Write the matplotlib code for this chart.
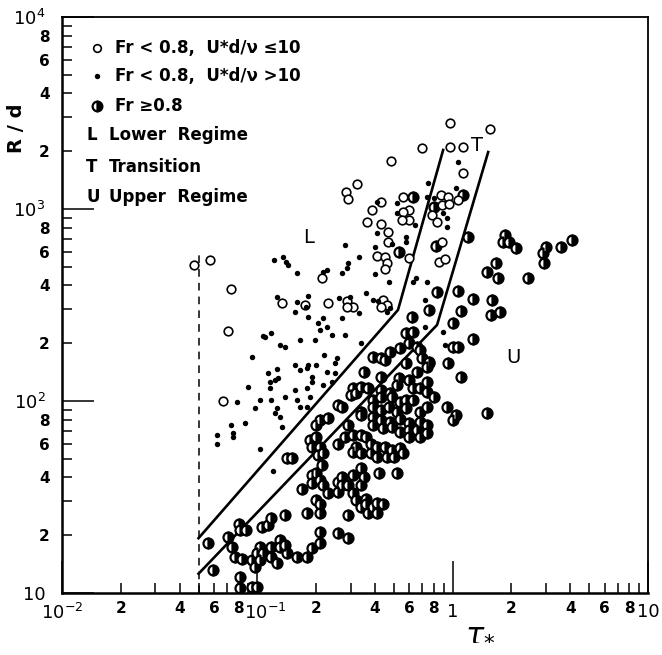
import matplotlib
matplotlib.use('Agg')
import matplotlib.pyplot as plt
import matplotlib.transforms as mtransforms
from matplotlib.ticker import FixedLocator, FixedFormatter

plt.rcParams['font.family'] = ['DejaVu Sans']
plt.rcParams['mathtext.fontset'] = 'dejavusans'

# ---------------- data ----------------
# Fr < 0.8, U*d/nu <= 10  (open circles)
open_x = [0.0475, 0.057, 0.073, 0.071, 0.067,
          0.97, 1.55, 0.70, 0.97, 1.13, 0.484, 0.324, 0.284, 0.292, 1.13,
          0.387, 0.365, 0.43, 0.43, 0.557, 0.60, 0.557, 0.60, 0.55, 0.466,
          0.466, 0.41, 0.45, 0.46, 0.45, 0.60, 0.87, 0.95, 0.88, 1.07, 0.96,
          0.78, 0.83, 0.88, 0.85, 0.91, 0.134, 0.23, 0.287, 0.31, 0.287,
          0.44, 0.46, 0.43, 0.214, 0.175]
open_y = [510, 540, 383, 232, 100,
          2800, 2610, 2080, 2100, 2100, 1780, 1350, 1230, 1130, 1540,
          990, 855, 835, 1086, 1150, 990, 960, 880, 880, 760,
          673, 570, 563, 524, 487, 556, 1183, 1153, 1047, 1113, 1061,
          930, 855, 673, 530, 550, 324, 324, 330, 309, 309,
          336, 316, 309, 437, 316]

# Fr < 0.8, U*d/nu > 10  (small filled dots)
filled_x = [1.07, 0.748, 1.04, 0.74, 0.80, 0.52, 0.41, 0.52, 0.64, 0.89,
            0.94, 0.93, 0.41, 0.40, 0.58, 0.58, 0.49, 0.28, 0.33, 0.29,
            0.287, 0.27, 0.40, 0.47, 0.36,
            0.122, 0.135, 0.14, 0.143, 0.16, 0.216, 0.226,
            0.126, 0.16, 0.156, 0.178, 0.182, 0.182, 0.204, 0.216, 0.226,
            0.24, 0.21, 0.262, 0.297, 0.33, 0.28, 0.27, 0.34, 0.39, 0.415,
            0.48, 0.46, 0.63, 0.65, 0.74, 0.72, 0.89, 0.109, 0.118, 0.13,
            0.138, 0.166, 0.198, 0.107,
            0.094, 0.22, 0.255, 0.25, 0.156, 0.166, 0.18, 0.182, 0.20,
            0.113, 0.126, 0.128, 0.116, 0.123, 0.09, 0.116, 0.156, 0.18,
            0.19, 0.19, 0.216, 0.24, 0.25, 0.226,
            0.079, 0.097, 0.103, 0.118, 0.126, 0.123, 0.13, 0.134, 0.138,
            0.16, 0.166, 0.18, 0.186,
            0.073, 0.086, 0.075, 0.075, 0.062, 0.062, 0.103, 0.12,
            0.72, 0.91]
filled_y = [1758, 1365, 1285, 1153, 1140, 1074, 1086, 953, 826, 953,
            900, 805, 750, 634, 714, 673, 658, 649, 562, 524,
            493, 464, 458, 417, 365,
            542, 563, 530, 511, 464, 470, 481,
            348, 328, 291, 309, 352, 274, 255, 270, 243,
            221, 234, 343, 348, 287, 221, 270, 200, 336, 330,
            305, 291, 417, 437, 417, 336, 228, 215, 226, 196,
            191, 208, 208, 218,
            169, 174, 167, 158, 154, 145, 149, 154, 154,
            140, 147, 132, 126, 129, 118, 117, 114, 117,
            126, 133, 121, 126, 140, 142,
            99, 92, 101, 101, 92, 87, 83, 73, 105,
            101, 93, 93, 105,
            75, 77, 68, 65, 66.5, 60, 56, 43,
            243, 196]

# Fr >= 0.8  (half-filled circles)
half_x = [1.2, 1.85, 1.8, 1.95, 2.1, 3.0, 2.9, 2.95, 3.6, 4.1,
          1.67, 1.5, 1.7, 2.44, 0.83, 1.07, 1.27, 1.59, 1.57, 1.75,
          0.76, 0.62, 1.1, 1.0, 1.27, 1.0, 1.07, 0.95, 1.1, 0.76,
          0.58, 0.93, 1.04, 1.0, 1.5, 0.82,
          0.63, 1.13, 0.8, 0.53,
          0.58, 0.63, 0.6, 0.66, 0.54, 0.48, 0.43, 0.39, 0.45, 0.68,
          0.7, 0.76, 0.74,
          0.35, 0.43, 0.53, 0.6, 0.66, 0.74,
          0.31, 0.34, 0.37, 0.43, 0.48, 0.52, 0.63, 0.68, 0.74, 0.8,
          0.3, 0.32,
          0.39, 0.43, 0.49, 0.54, 0.58, 0.63,
          0.26, 0.27, 0.34, 0.39, 0.43, 0.47, 0.52, 0.58, 0.68, 0.74,
          0.21, 0.23, 0.2, 0.29, 0.34,
          0.39, 0.43, 0.48, 0.54, 0.6, 0.68, 0.74, 0.66, 0.74, 0.6,
          0.39, 0.44, 0.49, 0.54, 0.6, 0.68,
          0.186, 0.2, 0.19, 0.21, 0.26, 0.28,
          0.31, 0.34, 0.36, 0.38, 0.32,
          0.41, 0.45, 0.49, 0.54, 0.56, 0.5, 0.46, 0.41, 0.38, 0.34, 0.31,
          0.216, 0.205, 0.142, 0.15,
          0.214, 0.2, 0.19, 0.21, 0.216, 0.19, 0.17,
          0.26, 0.27, 0.31, 0.34, 0.35, 0.34, 0.29, 0.27, 0.26,
          0.31, 0.32, 0.36, 0.34, 0.2, 0.21, 0.23,
          0.36, 0.39, 0.41, 0.44, 0.41, 0.37,
          0.42, 0.52, 0.29,
          0.081, 0.088, 0.082,
          0.106, 0.113, 0.118, 0.138, 0.18, 0.21,
          0.071, 0.056, 0.074, 0.077, 0.083,
          0.103, 0.107, 0.118, 0.13, 0.13, 0.118, 0.126, 0.142, 0.138,
          0.094, 0.1, 0.059, 0.082,
          0.16, 0.18, 0.19, 0.21, 0.21, 0.26, 0.29,
          0.082, 0.094, 0.1, 0.097, 0.103]
half_y = [714, 733, 673, 673, 627, 634, 590, 524, 634, 690,
          524, 470, 437, 437, 370, 374, 340, 336, 281, 291,
          298, 274, 294, 255, 210, 191, 191, 158, 133, 158,
          158, 93, 85, 80, 87, 641,
          1153, 1183, 1024, 597,
          226, 228, 200, 191, 189, 180, 167, 169, 164, 185,
          167, 160, 150,
          142, 133, 131, 129, 142, 126,
          117, 118, 117, 114, 110, 121, 117, 117, 111, 105,
          107, 110,
          101, 105, 105, 99, 101, 101,
          95, 93, 88, 93, 90, 93, 88, 92, 88, 93,
          80, 81.5, 75, 75, 85,
          83, 80, 78, 81, 77, 78, 75, 71, 68, 71,
          75, 72, 73, 69, 65, 65,
          63, 65, 57.5, 57.5, 60, 65,
          66.5, 66.5, 65, 60, 57.5,
          57.5, 57.5, 55.6, 57, 53.6, 51, 51, 51, 53.6, 53.6, 54,
          53.6, 52.5, 50.5, 50.5,
          46.4, 42, 41, 38.8, 36.5, 37.3, 35,
          37.8, 40, 41, 44.8, 40, 36.5, 36.5, 36.5, 33.6,
          33, 30.5, 31, 28, 30.5, 29, 33,
          29, 28, 29.5, 29, 26, 26,
          42, 42, 25.5,
          23, 21.3, 21.3,
          22, 22.6, 24.5, 25.5, 26, 26,
          19.6, 18.2, 17.4, 15.4, 15,
          17.4, 16.2, 17.4, 18.9, 17.4, 15.4, 14.3, 16.2, 17.8,
          14.8, 16.2, 13.2, 12.1,
          15.4, 15.4, 17.2, 18.2, 20.8, 20.5, 19.3,
          10.6, 10.7, 10.7, 13.7, 14.8]

# regime boundaries
lt_boundary_x = [0.05, 0.525, 0.894]
lt_boundary_y = [19.3, 298, 2030]
tu_boundary_x = [0.05, 0.832, 1.52]
tu_boundary_y = [12.6, 249, 1980]
cutoff_x = [0.05, 0.05]
cutoff_y = [10, 600]

# regime letters
regime_labels = ['L', 'T', 'U']
regime_x = [0.182, 1.33, 2.04]
regime_y = [714, 2154, 169]

# ticks
x_major = [0.01, 0.1, 1, 10]
x_major_labels = [r'$\mathregular{10^{-2}}$', r'$\mathregular{10^{-1}}$', '1', '10']
x_minor = [m * d for d in (0.01, 0.1, 1) for m in range(2, 10)]
x_minor_labels = ['2', '', '4', '', '6', '', '8', ''] * 3
y_major = [10, 100, 1000, 10000]
y_major_labels = ['10', r'$\mathregular{10^{2}}$', r'$\mathregular{10^{3}}$', r'$\mathregular{10^{4}}$']
y_minor = [m * d for d in (10, 100, 1000) for m in range(2, 10)]
y_minor_labels = ['2', '', '4', '', '6', '', '8', ''] * 3

legend_texts = ['Fr < 0.8,  U*d/ν ≤10', 'Fr < 0.8,  U*d/ν >10', 'Fr ≥0.8']
legend_letters = ['L', 'T', 'U']
legend_letter_texts = ['Lower  Regime', 'Transition', 'Upper  Regime']

# ---------------- figure ----------------
fig = plt.figure(figsize=(6.62, 6.55), dpi=100)
ax = fig.add_axes([62 / 662, 62 / 655, 586 / 662, 576 / 655])
ax.set_xscale('log')
ax.set_yscale('log')
ax.set_xlim(0.01, 10)
ax.set_ylim(10, 10000)

ax.plot(lt_boundary_x, lt_boundary_y, color='black', lw=1.9, zorder=2)
ax.plot(tu_boundary_x, tu_boundary_y, color='black', lw=1.9, zorder=2)
ax.plot(cutoff_x, cutoff_y, color='black', lw=1.1, ls=(0, (5, 4)), zorder=2)

ax.plot(half_x, half_y, 'o', ls='none', fillstyle='right', mfc='black',
        markerfacecoloralt='white', mec='black', ms=7.2, mew=1.6, zorder=3)
ax.plot(open_x, open_y, 'o', ls='none', mfc='white', mec='black',
        ms=6.2, mew=1.2, zorder=4)
ax.plot(filled_x, filled_y, 'o', ls='none', color='black', ms=3.9, mew=0, zorder=5)

for lab, x, y in zip(regime_labels, regime_x, regime_y):
    ax.text(x, y, lab, fontsize=14, ha='center', va='center', zorder=6)

# legend (manual, upper left)
leg_marker_y = [0.946, 0.8976, 0.8455]
ax.plot([0.0597], [leg_marker_y[0]], 'o', transform=ax.transAxes, mfc='white',
        mec='black', ms=5.5, mew=1.2, clip_on=False)
ax.plot([0.0597], [leg_marker_y[1]], 'o', transform=ax.transAxes, color='black',
        ms=3.9, mew=0, clip_on=False)
ax.plot([0.0597], [leg_marker_y[2]], 'o', transform=ax.transAxes, fillstyle='right',
        mfc='black', markerfacecoloralt='white', mec='black', ms=7, mew=1.6,
        clip_on=False)
for t, y in zip(legend_texts, leg_marker_y):
    ax.text(0.090, y, t, transform=ax.transAxes, fontsize=12, fontweight='bold',
            ha='left', va='center')
for l, t, y in zip(legend_letters, legend_letter_texts, [0.795, 0.7396, 0.6875]):
    ax.text(0.041, y, l, transform=ax.transAxes, fontsize=12, fontweight='bold',
            ha='left', va='center')
    ax.text(0.080, y, t, transform=ax.transAxes, fontsize=12, fontweight='bold',
            ha='left', va='center')

# axes styling
for side in ['left', 'bottom']:
    ax.spines[side].set_linewidth(1.8)
for side in ['top', 'right']:
    ax.spines[side].set_linewidth(1.3)

ax.xaxis.set_major_locator(FixedLocator(x_major))
ax.xaxis.set_major_formatter(FixedFormatter(x_major_labels))
ax.xaxis.set_minor_locator(FixedLocator(x_minor))
ax.xaxis.set_minor_formatter(FixedFormatter(x_minor_labels))
ax.yaxis.set_major_locator(FixedLocator(y_major))
ax.yaxis.set_major_formatter(FixedFormatter(y_major_labels))
ax.yaxis.set_minor_locator(FixedLocator(y_minor))
ax.yaxis.set_minor_formatter(FixedFormatter(y_minor_labels))

ax.tick_params(which='both', direction='in', top=False, right=False, color='black')
ax.tick_params(which='major', length=23, width=1.1, labelsize=13, pad=7)
ax.tick_params(which='minor', length=7.5, width=1.1, labelsize=11, pad=6)
ax.tick_params(axis='y', which='major', pad=12)
ax.tick_params(axis='y', which='minor', pad=9)
for lab in ax.get_xticklabels(minor=True) + ax.get_yticklabels(minor=True):
    lab.set_fontweight('bold')

# nudge the 10^-1 label right, as in the reference
shift = mtransforms.ScaledTranslation(8 / 100, 0, fig.dpi_scale_trans)
xt = ax.xaxis.get_major_ticks()
xt[1].label1.set_transform(xt[1].label1.get_transform() + shift)

fig.text(17 / 662, 1 - 128 / 655, 'R / d', rotation=90, fontsize=14,
         fontweight='bold', ha='center', va='center')
fig.text(480 / 662, 1 - 632 / 655, r'$\tau_{*}$', fontsize=22,
         ha='center', va='center')

fig.savefig('out.png', dpi=100)
